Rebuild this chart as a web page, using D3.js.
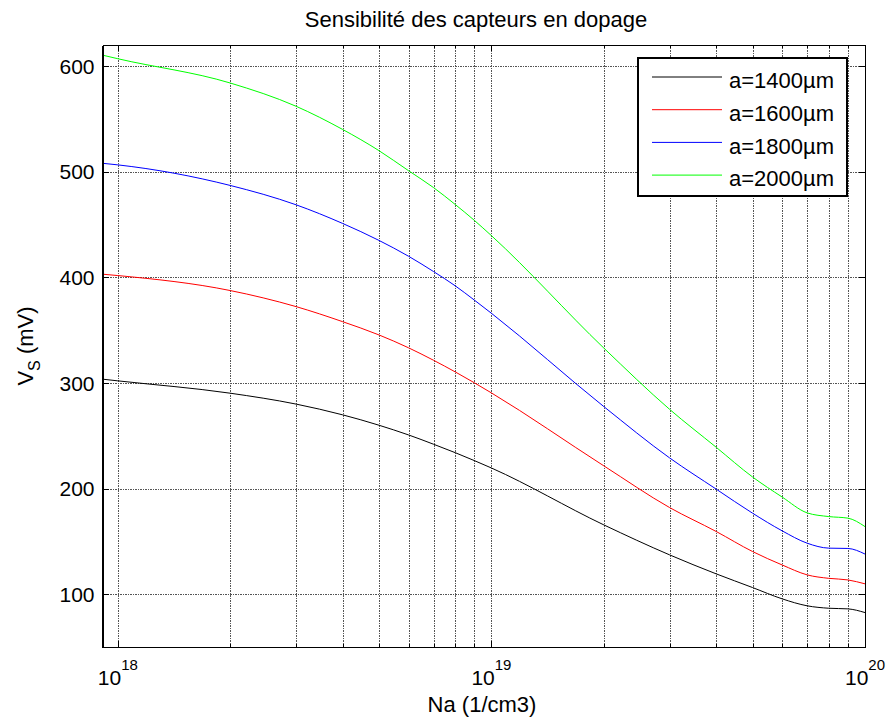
<!DOCTYPE html>
<html>
<head>
<meta charset="utf-8">
<script src="https://cdn.jsdelivr.net/npm/d3@7"></script>
<style>
  html, body { margin: 0; padding: 0; background: #fff; }
  text { font-family: "Liberation Sans", Arial, sans-serif; fill: #000; }
</style>
</head>
<body>
<svg id="chart" width="890" height="722"></svg>
<script>
// ---- data ----
const na = [9.1e17, 1e18, 2e18, 3e18, 4e18, 5e18, 6e18, 7e18, 8e18, 9e18,
            1e19, 2e19, 3e19, 4e19, 5e19, 6e19, 7e19, 8e19, 9e19, 1e20];
const seriesNames = ["a=1400µm", "a=1600µm", "a=1800µm", "a=2000µm"];
const seriesColors = ["#000000", "#ff0000", "#0000ff", "#00ff00"];
const vs1400 = [303.6, 302, 290.3, 280, 269.8, 260, 250.8, 242, 234, 226.5,
                219.5, 165.6, 137.2, 119.2, 106.3, 95.6, 89, 86.7, 86.1, 82.6];
const vs1600 = [403, 401.7, 387.5, 372.3, 358, 345.5, 333.3, 321.5, 310.5, 300.2,
                290.6, 221.5, 182, 159.3, 140.4, 127.7, 118.3, 115, 113.5, 109.8];
const vs1800 = [508, 506.5, 487, 468.7, 451, 435, 420, 405.5, 392, 378.5,
                366, 277.6, 229, 199.4, 176.7, 160, 148.3, 143.6, 143.3, 138];
const vs2000 = [610.4, 607, 584, 562, 540, 520, 501, 485, 469, 454,
                439.5, 333, 275, 239, 211, 192, 177, 173.5, 172, 164];
const yTicks = [100, 200, 300, 400, 500, 600];
const xMajor = [18, 19, 20]; // exponents
const xMinorMult = [2, 3, 4, 5, 6, 7, 8, 9];
const titleText = "Sensibilité des capteurs en dopage";
const xLabelText = "Na (1/cm3)";

const series = [vs1400, vs1600, vs1800, vs2000];

// ---- layout ----
const svg = d3.select("#chart");
const L = 102.5, R = 865, T = 45, B = 647;
const x = d3.scaleLog().domain([9.1e17, 1e20]).range([L, R]);
const y = d3.scaleLinear().domain([50, 620]).range([B, T]);

const majors = xMajor.map(e => Math.pow(10, e));
const minors = [];
[18, 19].forEach(e => xMinorMult.forEach(m => minors.push(m * Math.pow(10, e))));
const gridX = majors.concat(minors).filter(v => v >= 9.1e17 && v <= 1e20);

// grid
const grid = svg.append("g").attr("stroke", "#555").attr("stroke-width", 1)
  .attr("stroke-dasharray", "1.5,1").attr("shape-rendering", "crispEdges");
grid.selectAll("line.gx").data(gridX.filter(v => v < 1e20)).join("line")
  .attr("x1", d => Math.round(x(d)) + 0.5).attr("x2", d => Math.round(x(d)) + 0.5)
  .attr("y1", T).attr("y2", B);
grid.selectAll("line.gy").data(yTicks).join("line")
  .attr("y1", d => Math.round(y(d)) + 0.5).attr("y2", d => Math.round(y(d)) + 0.5)
  .attr("x1", L).attr("x2", R);

// curves
const line = d3.line().x(d => x(d[0])).y(d => y(d[1])).curve(d3.curveMonotoneX);
series.forEach((s, i) => {
  svg.append("path")
    .datum(na.map((v, j) => [v, s[j]]))
    .attr("fill", "none")
    .attr("stroke", seriesColors[i])
    .attr("stroke-width", 1)
    .attr("d", line);
});

// axes box with inward ticks
const ax = svg.append("g").attr("shape-rendering", "crispEdges");
const axB = d3.axisBottom(x).tickValues(gridX).tickSizeInner(0).tickSizeOuter(0).tickFormat("");
const axT = d3.axisTop(x).tickValues(gridX).tickSizeInner(0).tickSizeOuter(0).tickFormat("");
const axLf = d3.axisLeft(y).tickValues(yTicks).tickSizeInner(-6).tickSizeOuter(0).tickFormat("");
const axRt = d3.axisRight(y).tickValues(yTicks).tickSizeInner(-6).tickSizeOuter(0).tickFormat("");
ax.append("g").attr("transform", `translate(0,${B})`).call(axB);
ax.append("g").attr("transform", `translate(0,${T})`).call(axT);
ax.append("g").attr("transform", `translate(${L},0)`).call(axLf);
ax.append("g").attr("transform", `translate(${R},0)`).call(axRt);
ax.selectAll(".domain").attr("stroke", "#000").attr("stroke-width", 1.5);
ax.selectAll(".tick line").attr("stroke", "#000");
// x ticks inward: major longer, minor shorter
const tickG = svg.append("g").attr("stroke", "#000").attr("shape-rendering", "crispEdges");
gridX.forEach(v => {
  const len = majors.includes(v) ? 6 : 3;
  const px = Math.round(x(v)) + 0.5;
  tickG.append("line").attr("x1", px).attr("x2", px).attr("y1", B).attr("y2", B - len);
  tickG.append("line").attr("x1", px).attr("x2", px).attr("y1", T).attr("y2", T + len);
});

// y tick labels
svg.append("g").selectAll("text").data(yTicks).join("text")
  .attr("x", L - 8).attr("y", d => y(d)).attr("dy", "0.36em")
  .attr("text-anchor", "end").attr("font-size", 21).text(d => d);

// x tick labels (10^n)
const xl = svg.append("g").selectAll("text").data(xMajor).join("text")
  .attr("x", d => x(Math.pow(10, d))).attr("y", 685)
  .attr("text-anchor", "middle").attr("font-size", 21);
xl.append("tspan").text("10");
xl.append("tspan").attr("dy", -15).attr("font-size", 15).text(d => d);

// title
svg.append("text").attr("x", 476).attr("y", 27).attr("text-anchor", "middle")
  .attr("font-size", 22).text(titleText);

// x label
svg.append("text").attr("x", 482).attr("y", 712).attr("text-anchor", "middle")
  .attr("font-size", 22).text(xLabelText);

// y label
const yl = svg.append("text").attr("transform", "translate(33,346) rotate(-90)")
  .attr("text-anchor", "middle").attr("font-size", 22);
yl.append("tspan").text("V");
yl.append("tspan").attr("dy", 7).attr("font-size", 16).text("S");
yl.append("tspan").attr("dy", -7).text(" (mV)");

// legend
const lg = svg.append("g");
lg.append("rect").attr("x", 638).attr("y", 58).attr("width", 209).attr("height", 138)
  .attr("fill", "#fff").attr("stroke", "#000").attr("stroke-width", 1.5)
  .attr("shape-rendering", "crispEdges");
seriesNames.forEach((n, i) => {
  const ly = 77 + i * 32.7;
  lg.append("line").attr("x1", 652).attr("x2", 722).attr("y1", ly).attr("y2", ly)
    .attr("stroke", seriesColors[i]).attr("stroke-width", 1);
  lg.append("text").attr("x", 729).attr("y", ly + 11.3).attr("font-size", 22).text(n);
});
</script>
</body>
</html>
